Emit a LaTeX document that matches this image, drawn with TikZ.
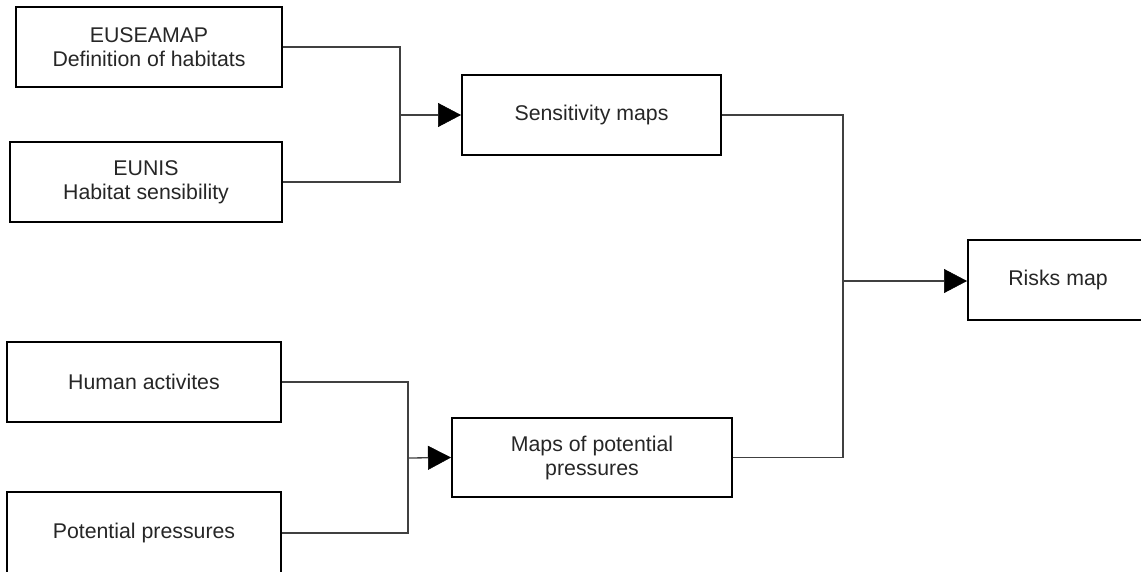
\documentclass[tikz,border=0pt]{standalone}
\usepackage{fontspec}
\setmainfont{Liberation Sans}
\usetikzlibrary{arrows.meta}
\begin{document}
\begin{tikzpicture}[x=1pt,y=-1pt,
  box/.style={draw=black,line width=2pt,rectangle,align=center,inner sep=0pt,
    font=\fontsize{21.3}{24}\selectfont,text=black!85},
  conn/.style={draw=black!75,line width=1.3pt},
  arr/.style={conn,-{Triangle[length=23pt,width=24pt,color=black,fill=black,line width=0.5pt]}}]
\useasboundingbox (0,0) rectangle (1141,571);
\node[box,minimum width=266pt,minimum height=80pt] (eus) at (149,47) {EUSEAMAP\\Definition of habitats};
\node[box,minimum width=272pt,minimum height=80pt] (eunis) at (146,182) {EUNIS\\Habitat sensibility};
\node[box,minimum width=259pt,minimum height=80pt] (sens) at (591.5,115) {Sensitivity maps};
\node[box,minimum width=180pt,minimum height=80pt] (risk) at (1058,280) {Risks map};
\node[box,minimum width=274pt,minimum height=80pt] (human) at (144,382) {Human activites};
\node[box,minimum width=274pt,minimum height=82pt] (pot) at (144,533) {Potential pressures};
\node[box,minimum width=280pt,minimum height=79pt] (maps) at (592,457.5) {Maps of potential\\pressures};
\coordinate (j1) at (400,115);
\coordinate (j2) at (843,281);
\coordinate (j3) at (408,458);
\draw[conn] (eus.east) -| (j1 |- eunis.east) -- (eunis.east);
\draw[arr] (j1) -- (sens.west);
\draw[conn] (human.east) -| (j3 |- pot.east) -- (pot.east);
\draw[arr] (j3) -- (maps.west);
\draw[conn] (sens.east) -| (j2 |- maps.east) -- (maps.east);
\draw[arr] (j2) -- (j2 -| risk.west);
\end{tikzpicture}
\end{document}
